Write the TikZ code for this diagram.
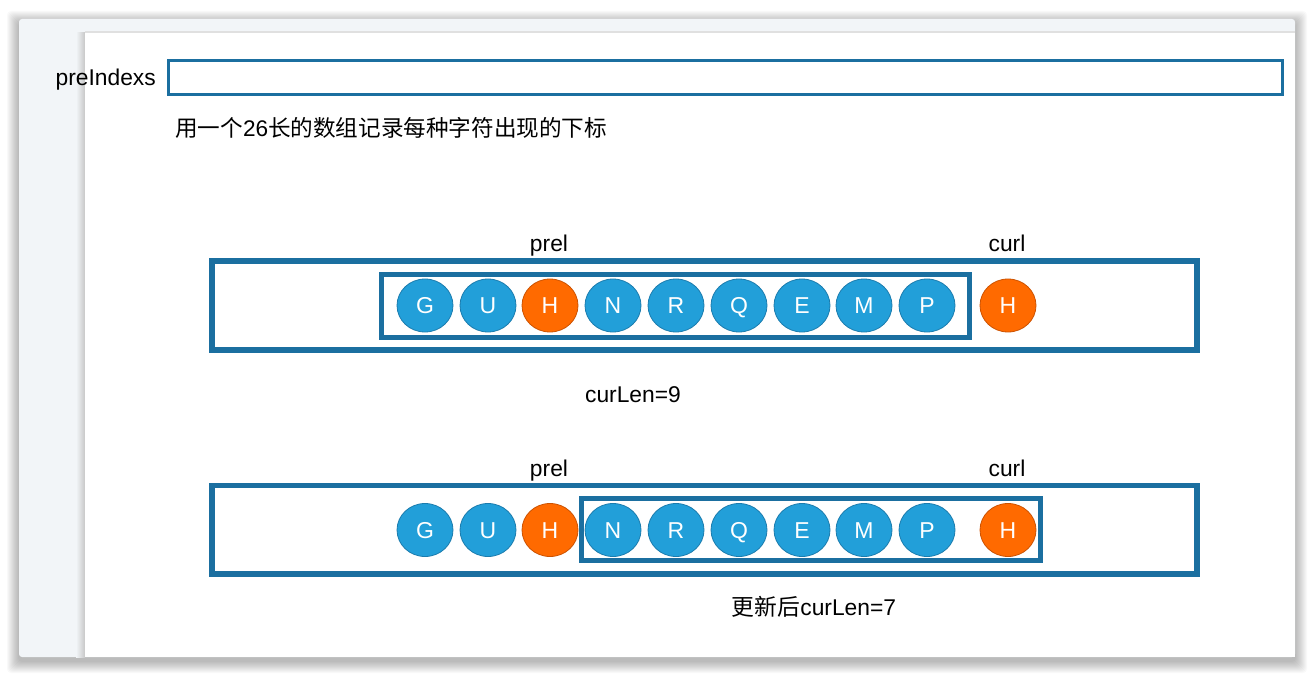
\documentclass[tikz,border=0pt]{standalone}
\usepackage{fontspec}
\setmainfont{Liberation Sans}
\newfontfamily\cjk{Noto Sans CJK SC}
\usetikzlibrary{shapes.geometric}
\definecolor{boxblue}{HTML}{1B6FA0}
\definecolor{ballblue}{HTML}{229FD9}
\definecolor{ballblueedge}{HTML}{1B7CAE}
\definecolor{ballorange}{HTML}{FF6A00}
\definecolor{ballorangeedge}{HTML}{CC5200}
\definecolor{panelgray}{HTML}{F2F5F8}
\tikzset{
  ball/.style={ellipse, minimum width=56pt, minimum height=53pt, inner sep=0pt,
    draw=ballblueedge, line width=0.8pt, fill=ballblue, text=white,
    font=\fontsize{23}{23}\selectfont, text depth=0pt, text height=16.5pt},
  hball/.style={ball, draw=ballorangeedge, fill=ballorange},
  lbl/.style={font=\fontsize{22.8}{24}\selectfont, text=black, inner sep=0pt, anchor=base},
  bigbox/.style={draw=boxblue, line width=5.5pt},
  subbox/.style={draw=boxblue, line width=5pt},
  idxbox/.style={draw=boxblue, line width=3pt}
}
\begin{document}
\begin{tikzpicture}[x=1pt,y=-1pt]
\useasboundingbox (0,0) rectangle (1314,676);
\fill[white] (0,0) rectangle (1314,676);
% window shadow
\foreach \i in {1,...,12}{
  \fill[black, opacity=0.022, rounded corners=4pt] (19-\i,19-\i+4) rectangle (1295+\i,657+\i+4);
}
% window
\fill[panelgray, rounded corners=3pt] (19,19) rectangle (1295,657);
% left shadow of white panel
\shade[left color=panelgray, right color=black!22] (76,33) rectangle (85,657);
\fill[black!12] (85,31) rectangle (1295,33);
\fill[white] (85,33) rectangle (1295,657);

% preIndexs
\node[lbl, anchor=base east] (pil) at (156,86) {preIndexs};
\node[idxbox, minimum width=1114.5pt, minimum height=34pt, inner sep=0pt, anchor=west] (pib) at (166.5,78) {};
\node[anchor=west, inner sep=0pt, font=\fontsize{22.6}{24}\selectfont] (desc) at (175,128)
  {{\cjk 用一个}26{\cjk 长的数组记录每种字符出现的下标}};

% row 1
\node[bigbox, minimum width=985pt, minimum height=89pt, inner sep=0pt] (outer1) at (704.5,305.5) {};
\node[subbox, minimum width=588.5pt, minimum height=62.5pt, inner sep=0pt] (inner1) at (675.25,305.75) {};
\node[ball] (g1) at (425,305.5) {G};
\node[ball] (u1) at (488,305.5) {U};
\node[hball] (h1) at (550,305.5) {H};
\node[ball] (n1) at (613,305.5) {N};
\node[ball] (r1) at (676,305.5) {R};
\node[ball] (q1) at (739,305.5) {Q};
\node[ball] (e1) at (802,305.5) {E};
\node[ball] (m1) at (864,305.5) {M};
\node[ball] (p1) at (927,305.5) {P};
\node[hball] (c1) at (1008,305.5) {H};
\node[lbl] (prel1) at (549,252) {prel};
\node[lbl] (curl1) at (1007,252) {curl};
\node[lbl] (len1) at (633,402) {curLen=9};

% row 2
\node[bigbox, minimum width=985pt, minimum height=88.5pt, inner sep=0pt] (outer2) at (704.5,529.75) {};
\node[subbox, minimum width=458.5pt, minimum height=62pt, inner sep=0pt] (inner2) at (810.75,529.5) {};
\node[ball] (g2) at (425,530) {G};
\node[ball] (u2) at (488,530) {U};
\node[hball] (h2) at (550,530) {H};
\node[ball] (n2) at (613,530) {N};
\node[ball] (r2) at (676,530) {R};
\node[ball] (q2) at (739,530) {Q};
\node[ball] (e2) at (802,530) {E};
\node[ball] (m2) at (864,530) {M};
\node[ball] (p2) at (927,530) {P};
\node[hball] (c2) at (1008,530) {H};
\node[lbl] (prel2) at (549,476) {prel};
\node[lbl] (curl2) at (1007,476) {curl};
\node[lbl] (len2) at (814,615) {{\cjk 更新后}curLen=7};
\end{tikzpicture}
\end{document}
